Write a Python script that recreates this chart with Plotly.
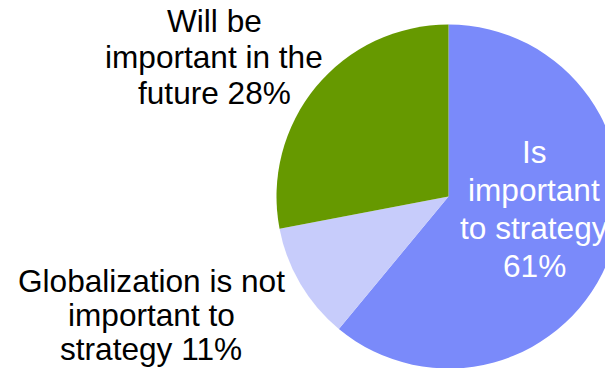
import plotly.graph_objects as go

# Survey answers: how globalization relates to company strategy
categories = [
    "Is important to strategy",
    "Globalization is not important to strategy",
    "Will be important in the future",
]
values = [61, 11, 28]
colors = ["#7A8AFA", "#C7CCFB", "#669900"]

# Label text for each slice, split into lines; the final line carries the share
label_lines = [
    ["Is", "important", "to strategy", "{v}%"],
    ["Globalization is not", "important to", "strategy {v}%"],
    ["Will be", "important in the", "future {v}%"],
]
label_colors = ["white", "black", "black"]

# Canvas is a little wider/taller than the viewport so the pie can run off the right edge
W, H = 640, 370
FONT = "Liberation Sans, Arial, sans-serif"
FS = 31.6

# Pie placement (pixels): centre and radius
cx, cy, r = 448.5, 196.5, 172

# Label line layout (pixels): centre x, first baseline, line step
label_layout = [
    (534, 163, 38),
    (151, 292, 34),
    (214, 31.5, 36),
]

fig = go.Figure(
    go.Pie(
        labels=categories,
        values=values,
        sort=False,
        direction="clockwise",
        rotation=0,
        marker=dict(colors=colors, line=dict(width=0)),
        textinfo="none",
        hoverinfo="label+percent",
        showlegend=False,
        domain=dict(
            x=[(cx - r) / W, (cx + r) / W],
            y=[(H - (cy + r)) / H, (H - (cy - r)) / H],
        ),
    )
)

annotations = []
for lines, val, col, (lx, base0, step) in zip(label_lines, values, label_colors, label_layout):
    for i, line in enumerate(lines):
        baseline = base0 + i * step
        mid = baseline - 0.3465 * FS
        annotations.append(
            dict(
                text=line.format(v=val),
                x=lx / W,
                y=(H - mid) / H,
                xref="paper",
                yref="paper",
                xanchor="center",
                yanchor="middle",
                showarrow=False,
                font=dict(family=FONT, size=FS, color=col),
            )
        )

fig.update_layout(
    width=W,
    height=H,
    margin=dict(l=0, r=0, t=0, b=0),
    paper_bgcolor="white",
    plot_bgcolor="white",
    annotations=annotations,
)

fig.write_html(
    "out.html",
    config={"displayModeBar": False},
    post_script=(
        "document.documentElement.style.overflow='hidden';"
        "document.body.style.overflow='hidden';"
        "document.body.style.margin='0';"
    ),
)
